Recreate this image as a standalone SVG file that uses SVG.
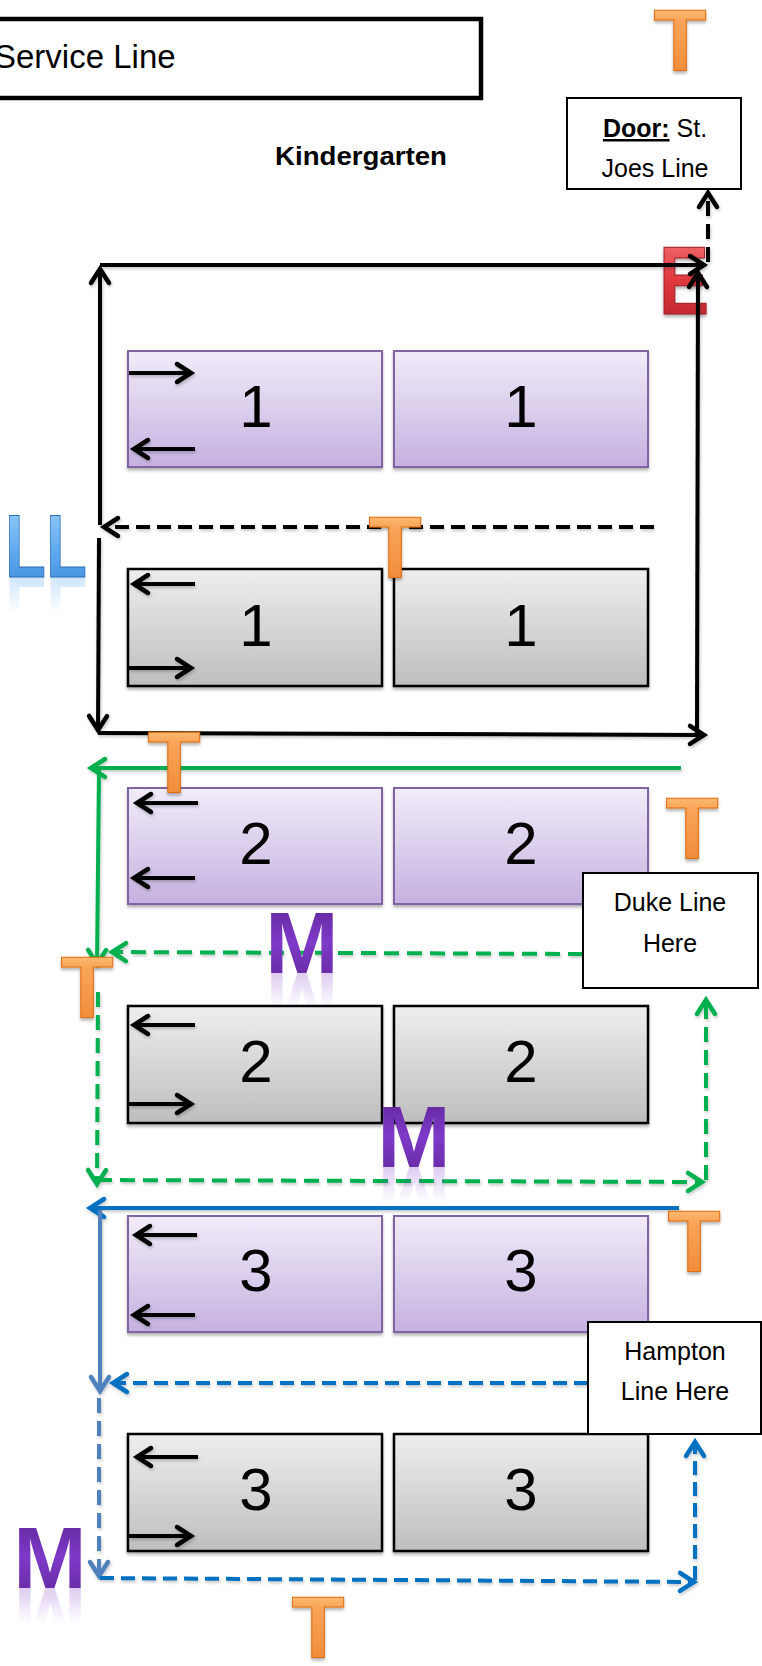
<svg xmlns="http://www.w3.org/2000/svg" width="762" height="1666" viewBox="0 0 762 1666">
<style>
.t{font-family:"Liberation Sans",Arial,sans-serif;fill:#000}
.num{font-size:60px;text-anchor:middle}
.lab{font-size:25px;text-anchor:middle}
.box{fill:#fff;stroke:#000;stroke-width:2}
.pur{fill:url(#gP);stroke:#8064A2;stroke-width:2}
.gry{fill:url(#gG);stroke:#000;stroke-width:2.5}
.ln{fill:none;stroke-width:4}
.k{stroke:#000}
.g{stroke:#00B050}
.b{stroke:#0070C0}
.s{stroke:#4F81BD}
.d{stroke-dasharray:14 7}
.tt{font-family:"Liberation Sans",Arial,sans-serif;font-weight:bold;font-size:87px;text-anchor:middle;fill:url(#gT);stroke:#E36C09;stroke-width:1;filter:url(#sh)}
.mm{font-family:"Liberation Sans",Arial,sans-serif;font-weight:bold;font-size:88px;text-anchor:middle;fill:url(#gM)}
.mr{font-family:"Liberation Sans",Arial,sans-serif;font-weight:bold;font-size:88px;text-anchor:middle;fill:url(#gMr)}
.hd{fill:none;stroke-width:4.5;stroke-linecap:round;stroke-linejoin:miter}
</style>
<defs>
<linearGradient id="gP" x1="0" y1="0" x2="0" y2="1"><stop offset="0" stop-color="#F1ECF9"/><stop offset="1" stop-color="#C5B1E0"/></linearGradient>
<linearGradient id="gG" x1="0" y1="0" x2="0" y2="1"><stop offset="0" stop-color="#EEEEEE"/><stop offset="1" stop-color="#BEBEBE"/></linearGradient>
<linearGradient id="gT" x1="0" y1="0" x2="0" y2="1"><stop offset="0" stop-color="#FDE29A"/><stop offset="0.3" stop-color="#F9A55A"/><stop offset="1" stop-color="#EE8530"/></linearGradient>
<linearGradient id="gM" x1="0" y1="0" x2="0" y2="1"><stop offset="0" stop-color="#5A2290"/><stop offset="0.5" stop-color="#7E3AC8"/><stop offset="1" stop-color="#5E2596"/></linearGradient>
<linearGradient id="gMr" x1="0" y1="0" x2="0" y2="1"><stop offset="0" stop-color="#7E3AC8" stop-opacity="0"/><stop offset="0.45" stop-color="#7E3AC8" stop-opacity="0"/><stop offset="1" stop-color="#7E3AC8" stop-opacity="0.4"/></linearGradient>
<linearGradient id="gL" x1="0" y1="0" x2="0" y2="1"><stop offset="0" stop-color="#9ED3FA"/><stop offset="0.6" stop-color="#5AA6EE"/><stop offset="1" stop-color="#3A86D6"/></linearGradient>
<linearGradient id="gLr" x1="0" y1="0" x2="0" y2="1"><stop offset="0" stop-color="#5AA6EE" stop-opacity="0"/><stop offset="0.45" stop-color="#5AA6EE" stop-opacity="0"/><stop offset="1" stop-color="#5AA6EE" stop-opacity="0.45"/></linearGradient>
<linearGradient id="gE" x1="0" y1="0" x2="0" y2="1"><stop offset="0" stop-color="#F77B7B"/><stop offset="0.5" stop-color="#E0383D"/><stop offset="1" stop-color="#B5222A"/></linearGradient>
<filter id="sh" x="-20%" y="-20%" width="140%" height="150%"><feDropShadow dx="0" dy="2.5" stdDeviation="1.5" flood-color="#000" flood-opacity="0.3"/></filter>
<filter id="lsh" x="-5%" y="-5%" width="110%" height="110%"><feDropShadow dx="1" dy="2" stdDeviation="1.5" flood-color="#000" flood-opacity="0.22"/></filter>
<marker id="ak" viewBox="-22 -14 26 28" refX="0" refY="0" markerWidth="26" markerHeight="28" markerUnits="userSpaceOnUse" orient="auto"><path class="hd" d="M-15,-9 L-1,0 L-15,9" stroke="#000"/></marker>
<marker id="ag" viewBox="-22 -14 26 28" refX="0" refY="0" markerWidth="26" markerHeight="28" markerUnits="userSpaceOnUse" orient="auto"><path class="hd" d="M-15,-9 L-1,0 L-15,9" stroke="#00B050"/></marker>
<marker id="ab" viewBox="-22 -14 26 28" refX="0" refY="0" markerWidth="26" markerHeight="28" markerUnits="userSpaceOnUse" orient="auto"><path class="hd" d="M-15,-9 L-1,0 L-15,9" stroke="#0070C0"/></marker>
<marker id="as" viewBox="-22 -14 26 28" refX="0" refY="0" markerWidth="26" markerHeight="28" markerUnits="userSpaceOnUse" orient="auto"><path class="hd" d="M-15,-9 L-1,0 L-15,9" stroke="#4F81BD"/></marker>
</defs>
<rect width="762" height="1666" fill="#fff"/>

<g id="service-line">
<rect x="-10" y="19" width="491" height="79" fill="#fff" stroke="#000" stroke-width="4.5"/>
<text class="t" x="-6" y="68" font-size="33">Service Line</text>
</g>
<g id="kindergarten"><text class="t" x="275" y="165" font-size="26" font-weight="bold" textLength="172" lengthAdjust="spacingAndGlyphs">Kindergarten</text></g>

<g id="e-mark"><text x="684" y="314" font-family="Liberation Sans,Arial,sans-serif" font-weight="bold" font-size="96" text-anchor="middle" textLength="50" lengthAdjust="spacingAndGlyphs" fill="url(#gE)" stroke="#9E1C22" stroke-width="1.2" filter="url(#sh)">E</text></g>

<g id="row1-left-purple"><rect class="pur" x="128" y="351" width="254" height="116" filter="url(#sh)"/><text class="t num" x="256" y="427">1</text></g>
<g id="row1-right-purple"><rect class="pur" x="394" y="351" width="254" height="116" filter="url(#sh)"/><text class="t num" x="521" y="427">1</text></g>
<g id="row1-left-gray"><rect class="gry" x="128" y="569" width="254" height="117" filter="url(#sh)"/><text class="t num" x="256" y="646">1</text></g>
<g id="row1-right-gray"><rect class="gry" x="394" y="569" width="254" height="117" filter="url(#sh)"/><text class="t num" x="521" y="646">1</text></g>
<g id="row2-left-purple"><rect class="pur" x="128" y="788" width="254" height="116" filter="url(#sh)"/><text class="t num" x="256" y="864">2</text></g>
<g id="row2-right-purple"><rect class="pur" x="394" y="788" width="254" height="116" filter="url(#sh)"/><text class="t num" x="521" y="864">2</text></g>
<g id="row2-left-gray"><rect class="gry" x="128" y="1006" width="254" height="117" filter="url(#sh)"/><text class="t num" x="256" y="1082">2</text></g>
<g id="row2-right-gray"><rect class="gry" x="394" y="1006" width="254" height="117" filter="url(#sh)"/><text class="t num" x="521" y="1082">2</text></g>
<g id="row3-left-purple"><rect class="pur" x="128" y="1216" width="254" height="116" filter="url(#sh)"/><text class="t num" x="256" y="1291">3</text></g>
<g id="row3-right-purple"><rect class="pur" x="394" y="1216" width="254" height="116" filter="url(#sh)"/><text class="t num" x="521" y="1291">3</text></g>
<g id="row3-left-gray"><rect class="gry" x="128" y="1434" width="254" height="117" filter="url(#sh)"/><text class="t num" x="256" y="1510">3</text></g>
<g id="row3-right-gray"><rect class="gry" x="394" y="1434" width="254" height="117" filter="url(#sh)"/><text class="t num" x="521" y="1510">3</text></g>

<g id="door-box"><rect class="box" x="567" y="98" width="174" height="91"/>
<text class="t lab" x="655" y="137"><tspan font-weight="bold" text-decoration="underline">Door:</tspan> St.</text>
<text class="t lab" x="655" y="177">Joes Line</text></g>

<g id="connectors" filter="url(#lsh)">
<path class="ln k" d="M100 265 L705 265" marker-end="url(#ak)"/>
<path class="ln k" d="M100 525 L100 268" marker-end="url(#ak)"/>
<path class="ln k" d="M99 538 L98 731" marker-end="url(#ak)"/>
<path class="ln k" d="M98 733 L705 735" marker-end="url(#ak)"/>
<path class="ln k" d="M697 733 L698 272" marker-end="url(#ak)"/>
<path class="ln k" d="M708 262 L708 192" stroke-dasharray="15 8" marker-end="url(#ak)"/>
<path class="ln k d" d="M654 527 L103 527" marker-end="url(#ak)"/>
<path class="ln g" d="M681 768 L90 768" marker-end="url(#ag)"/>
<path class="ln g" d="M99 770 L97 965" marker-end="url(#ag)"/>
<path class="ln g" d="M583 954 L111 952" stroke-dasharray="15 8" marker-end="url(#ag)"/>
<path class="ln g" d="M98 992 L97 1185" stroke-dasharray="15 8" marker-end="url(#ag)"/>
<path class="ln g" d="M97 1180 L703 1182" stroke-dasharray="15 8" marker-end="url(#ag)"/>
<path class="ln g" d="M706 1180 L706 999" stroke-dasharray="15 8" marker-end="url(#ag)"/>
<path class="ln b" d="M679 1208 L89 1208" marker-end="url(#ab)"/>
<path class="ln s" d="M100 1210 L100 1392" marker-end="url(#as)"/>
<path class="ln b d" d="M588 1383 L112 1383" marker-end="url(#ab)"/>
<path class="ln s" d="M99 1398 L99 1577" stroke-dasharray="15 8" marker-end="url(#as)"/>
<path class="ln b d" d="M100 1578 L695 1582" marker-end="url(#ab)"/>
<path class="ln b d" d="M695 1580 L695 1441" marker-end="url(#ab)"/>
<path class="ln k" d="M129 373 L192 373" marker-end="url(#ak)"/>
<path class="ln k" d="M195 449 L133 449" marker-end="url(#ak)"/>
<path class="ln k" d="M195 584 L133 584" marker-end="url(#ak)"/>
<path class="ln k" d="M129 668 L192 668" marker-end="url(#ak)"/>
<path class="ln k" d="M198 803 L136 803" marker-end="url(#ak)"/>
<path class="ln k" d="M195 878 L133 878" marker-end="url(#ak)"/>
<path class="ln k" d="M195 1025 L133 1025" marker-end="url(#ak)"/>
<path class="ln k" d="M129 1104 L192 1104" marker-end="url(#ak)"/>
<path class="ln k" d="M197 1235 L135 1235" marker-end="url(#ak)"/>
<path class="ln k" d="M195 1315 L133 1315" marker-end="url(#ak)"/>
<path class="ln k" d="M198 1457 L136 1457" marker-end="url(#ak)"/>
<path class="ln k" d="M129 1536 L192 1536" marker-end="url(#ak)"/>
</g>

<g id="duke-box"><rect class="box" x="583" y="873" width="175" height="115" stroke-width="2.5"/>
<text class="t lab" x="670" y="911">Duke Line</text>
<text class="t lab" x="670" y="952">Here</text></g>
<g id="hampton-box"><rect class="box" x="588" y="1322" width="173" height="112" stroke-width="2.5"/>
<text class="t lab" x="675" y="1360">Hampton</text>
<text class="t lab" x="675" y="1400">Line Here</text></g>

<g id="ll-mark">
<text x="5" y="577" transform="matrix(1 0 0 -1 0 1154)" font-family="Liberation Sans,Arial,sans-serif" font-weight="bold" font-size="89" textLength="82" lengthAdjust="spacingAndGlyphs" fill="url(#gLr)">LL</text>
<text x="5" y="577" font-family="Liberation Sans,Arial,sans-serif" font-weight="bold" font-size="89" textLength="82" lengthAdjust="spacingAndGlyphs" fill="url(#gL)" stroke="#2F6FB5" stroke-width="1">LL</text>
</g>
<g id="m-mark-1"><text class="mr" x="302" y="973" transform="matrix(1 0 0 -1 0 1946)">M</text><text class="mm" x="302" y="973">M</text></g>
<g id="m-mark-2"><text class="mr" x="414" y="1167" transform="matrix(1 0 0 -1 0 2334)">M</text><text class="mm" x="414" y="1167">M</text></g>
<g id="m-mark-3"><text class="mr" x="50" y="1588" transform="matrix(1 0 0 -1 0 3176)">M</text><text class="mm" x="50" y="1588">M</text></g>

<g id="t-mark-1"><text class="tt" x="680" y="70">T</text></g>
<g id="t-mark-2"><text class="tt" x="395" y="577">T</text></g>
<g id="t-mark-3"><text class="tt" x="174" y="792">T</text></g>
<g id="t-mark-4"><text class="tt" x="692" y="858">T</text></g>
<g id="t-mark-5"><text class="tt" x="87" y="1017">T</text></g>
<g id="t-mark-6"><text class="tt" x="694" y="1271">T</text></g>
<g id="t-mark-7"><text class="tt" x="318" y="1657">T</text></g>
</svg>
